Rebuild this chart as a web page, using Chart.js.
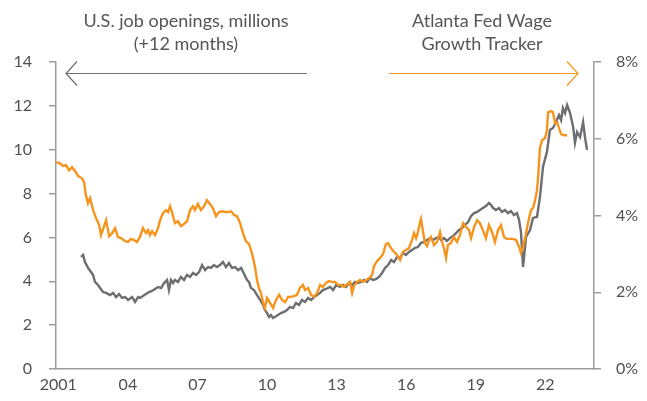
<!DOCTYPE html>
<html>
<head>
<meta charset="utf-8">
<script src="https://cdn.jsdelivr.net/npm/chart.js@4"></script>
<style>
  html, body { margin: 0; padding: 0; background: #fff; }
  #wrap { position: relative; width: 647px; height: 401px; }
  .note { position: absolute; font-family: Lato, "Open Sans", sans-serif; font-weight: 400;
          font-size: 18px; line-height: 23px; color: #555; text-align: center; }
</style>
</head>
<body>
<div id="wrap">
  <canvas id="jobsWageChart" width="647" height="401"></canvas>
  <div class="note" style="left:46px; top:9px; width:280px;">U.S. job openings, millions<br>(+12 months)</div>
  <div class="note" style="left:382px; top:9px; width:200px;">Atlanta Fed Wage<br>Growth Tracker</div>
</div>
<script>
// x ticks (years) shown on the bottom axis
const yearTicks = [2001, 2004, 2007, 2010, 2013, 2016, 2019, 2022];

// Atlanta Fed Wage Growth Tracker, % (right axis)
const wageYears = [2000.92, 2001.07, 2001.20, 2001.33, 2001.46, 2001.59, 2001.72, 2001.85, 2002.02, 2002.11,
  2002.19, 2002.28, 2002.37, 2002.50, 2002.63, 2002.76, 2002.84, 2002.97, 2003.06, 2003.19,
  2003.32, 2003.45, 2003.57, 2003.70, 2003.88, 2004.01, 2004.13, 2004.26, 2004.39, 2004.52,
  2004.65, 2004.78, 2004.87, 2004.95, 2005.04, 2005.17, 2005.30, 2005.39, 2005.51, 2005.64,
  2005.73, 2005.82, 2005.90, 2006.03, 2006.16, 2006.29, 2006.42, 2006.55, 2006.68, 2006.81,
  2006.89, 2007.02, 2007.15, 2007.28, 2007.41, 2007.54, 2007.67, 2007.80, 2007.93, 2008.06,
  2008.19, 2008.32, 2008.45, 2008.58, 2008.71, 2008.84, 2008.96, 2009.09, 2009.22, 2009.31,
  2009.40, 2009.48, 2009.57, 2009.65, 2009.74, 2009.83, 2009.91, 2010.00, 2010.13, 2010.26,
  2010.39, 2010.52, 2010.65, 2010.78, 2010.91, 2011.03, 2011.16, 2011.29, 2011.42, 2011.55,
  2011.64, 2011.77, 2011.90, 2012.03, 2012.16, 2012.29, 2012.41, 2012.54, 2012.67, 2012.80,
  2012.93, 2013.06, 2013.19, 2013.32, 2013.45, 2013.58, 2013.67, 2013.75, 2013.88, 2014.01,
  2014.14, 2014.27, 2014.40, 2014.53, 2014.61, 2014.74, 2014.87, 2015.00, 2015.13, 2015.22,
  2015.35, 2015.48, 2015.61, 2015.74, 2015.86, 2015.99, 2016.12, 2016.25, 2016.34, 2016.43,
  2016.51, 2016.60, 2016.64, 2016.73, 2016.81, 2016.90, 2016.99, 2017.07, 2017.20, 2017.33,
  2017.46, 2017.55, 2017.63, 2017.72, 2017.80, 2017.93, 2018.06, 2018.19, 2018.32, 2018.45,
  2018.58, 2018.71, 2018.80, 2018.93, 2019.06, 2019.18, 2019.31, 2019.44, 2019.57, 2019.70,
  2019.83, 2019.96, 2020.09, 2020.22, 2020.35, 2020.48, 2020.61, 2020.74, 2020.87, 2020.95,
  2021.04, 2021.13, 2021.21, 2021.30, 2021.38, 2021.47, 2021.56, 2021.64, 2021.69, 2021.77,
  2021.86, 2021.99, 2022.07, 2022.12, 2022.25, 2022.33, 2022.42, 2022.51, 2022.59, 2022.68,
  2022.81, 2022.94];
const wageValues = [5.39, 5.36, 5.29, 5.31, 5.18, 5.26, 5.16, 5.03, 4.97, 4.87,
  4.53, 4.32, 4.45, 4.14, 3.93, 3.75, 3.49, 3.72, 3.88, 3.46,
  3.54, 3.67, 3.44, 3.41, 3.33, 3.31, 3.39, 3.36, 3.31, 3.44,
  3.67, 3.54, 3.62, 3.49, 3.59, 3.49, 3.67, 3.88, 4.06, 4.14,
  4.09, 4.24, 4.09, 3.80, 3.85, 3.72, 3.78, 3.85, 4.14, 4.24,
  4.14, 4.30, 4.14, 4.24, 4.40, 4.30, 4.19, 3.98, 4.09, 4.11,
  4.09, 4.09, 4.11, 4.01, 3.98, 3.80, 3.54, 3.33, 3.26, 3.10,
  2.89, 2.66, 2.32, 2.11, 1.98, 1.72, 1.59, 1.85, 1.72, 1.59,
  1.80, 1.93, 1.80, 1.74, 1.88, 1.88, 1.90, 1.93, 2.11, 2.19,
  2.06, 2.11, 1.93, 1.88, 1.98, 2.19, 2.14, 2.24, 2.29, 2.27,
  2.27, 2.19, 2.19, 2.14, 2.21, 2.27, 1.98, 2.16, 2.27, 2.32,
  2.27, 2.32, 2.37, 2.45, 2.68, 2.81, 2.89, 2.99, 3.26, 3.28,
  3.15, 3.05, 2.97, 2.84, 3.05, 3.10, 3.15, 3.36, 3.54, 3.41,
  3.57, 3.83, 3.91, 3.57, 3.28, 3.20, 3.36, 3.44, 3.23, 3.31,
  3.57, 3.31, 3.15, 2.89, 3.23, 3.28, 3.44, 3.31, 3.49, 3.80,
  3.70, 3.62, 3.41, 3.70, 3.88, 3.80, 3.62, 3.41, 3.75, 3.57,
  3.31, 3.62, 3.75, 3.44, 3.39, 3.39, 3.39, 3.36, 3.18, 3.02,
  3.18, 3.41, 3.67, 3.93, 4.14, 4.19, 4.40, 4.66, 5.00, 5.76,
  5.96, 6.02, 6.22, 6.69, 6.72, 6.69, 6.41, 6.43, 6.28, 6.12,
  6.09, 6.09];

// U.S. job openings, millions, shifted +12 months (left axis)
const openingsYears = [2001.98, 2002.07, 2002.15, 2002.28, 2002.41, 2002.50, 2002.58, 2002.71, 2002.80, 2002.93,
  2003.06, 2003.23, 2003.36, 2003.49, 2003.62, 2003.75, 2003.88, 2004.01, 2004.18, 2004.31,
  2004.44, 2004.52, 2004.65, 2004.78, 2004.91, 2005.04, 2005.17, 2005.30, 2005.43, 2005.56,
  2005.69, 2005.77, 2005.86, 2005.95, 2006.03, 2006.16, 2006.29, 2006.42, 2006.55, 2006.68,
  2006.81, 2006.94, 2007.07, 2007.20, 2007.33, 2007.46, 2007.58, 2007.71, 2007.84, 2007.97,
  2008.10, 2008.23, 2008.36, 2008.49, 2008.62, 2008.75, 2008.88, 2009.01, 2009.14, 2009.22,
  2009.31, 2009.44, 2009.57, 2009.70, 2009.83, 2009.91, 2010.00, 2010.09, 2010.17, 2010.26,
  2010.34, 2010.47, 2010.60, 2010.73, 2010.86, 2010.99, 2011.12, 2011.25, 2011.38, 2011.51,
  2011.64, 2011.77, 2011.90, 2012.03, 2012.16, 2012.29, 2012.41, 2012.54, 2012.72, 2012.85,
  2012.98, 2013.15, 2013.28, 2013.41, 2013.54, 2013.67, 2013.79, 2013.92, 2014.05, 2014.18,
  2014.31, 2014.44, 2014.57, 2014.70, 2014.83, 2014.96, 2015.09, 2015.22, 2015.35, 2015.48,
  2015.61, 2015.74, 2015.86, 2015.99, 2016.12, 2016.25, 2016.38, 2016.51, 2016.64, 2016.77,
  2016.90, 2017.03, 2017.16, 2017.29, 2017.42, 2017.50, 2017.63, 2017.76, 2017.89, 2018.02,
  2018.15, 2018.28, 2018.41, 2018.54, 2018.67, 2018.80, 2018.93, 2019.06, 2019.18, 2019.31,
  2019.44, 2019.57, 2019.66, 2019.75, 2019.87, 2020.00, 2020.13, 2020.26, 2020.39, 2020.52,
  2020.65, 2020.78, 2020.87, 2020.95, 2021.04, 2021.17, 2021.34, 2021.47, 2021.64, 2021.77,
  2021.90, 2022.07, 2022.20, 2022.33, 2022.46, 2022.59, 2022.68, 2022.76, 2022.85, 2022.94,
  2023.07, 2023.20, 2023.28, 2023.37, 2023.50, 2023.63, 2023.71, 2023.80];
const openingsValues = [5.11, 5.20, 4.88, 4.61, 4.42, 4.29, 3.97, 3.83, 3.69, 3.51,
  3.47, 3.37, 3.47, 3.28, 3.42, 3.24, 3.28, 3.15, 3.28, 3.06,
  3.28, 3.24, 3.33, 3.42, 3.51, 3.56, 3.65, 3.74, 3.69, 3.92,
  4.06, 3.60, 4.06, 3.92, 4.06, 3.97, 4.20, 4.06, 4.29, 4.20,
  4.38, 4.29, 4.42, 4.74, 4.51, 4.65, 4.61, 4.74, 4.65, 4.74,
  4.88, 4.65, 4.83, 4.61, 4.65, 4.51, 4.61, 4.33, 4.06, 3.97,
  3.69, 3.60, 3.37, 3.15, 2.92, 2.69, 2.55, 2.37, 2.46, 2.33,
  2.37, 2.46, 2.55, 2.60, 2.69, 2.83, 2.78, 3.01, 2.92, 3.15,
  3.06, 3.24, 3.15, 3.28, 3.37, 3.47, 3.60, 3.65, 3.74, 3.60,
  3.83, 3.74, 3.83, 3.74, 3.92, 3.83, 3.97, 3.92, 3.97, 4.06,
  3.97, 4.15, 4.06, 4.10, 4.20, 4.38, 4.61, 4.74, 4.97, 4.88,
  5.11, 5.06, 5.29, 5.20, 5.34, 5.43, 5.52, 5.56, 5.75, 5.79,
  5.88, 5.97, 5.88, 5.97, 6.02, 5.88, 5.97, 5.84, 5.97, 6.06,
  6.20, 6.34, 6.43, 6.57, 6.70, 6.98, 7.11, 7.16, 7.25, 7.34,
  7.43, 7.57, 7.48, 7.34, 7.25, 7.34, 7.16, 7.25, 7.11, 7.20,
  7.02, 7.11, 6.79, 6.25, 4.65, 6.02, 6.34, 6.89, 6.93, 7.84,
  9.21, 9.90, 10.90, 10.99, 11.26, 11.58, 11.35, 11.90, 11.67, 12.04,
  11.67, 11.04, 10.31, 10.81, 10.58, 11.26, 10.58, 9.99];

const axisGrey = '#9b9b9b';
const textGrey = '#505050';
const lineGrey = '#6d6e71';
const orange = '#f7941d';
const tickFont = { family: 'Lato', size: 16, weight: '400' };

function toPoints(xs, ys) {
    return xs.map((x, i) => ({ x: x, y: ys[i] }));
}

// the two arrows under the notes
const arrowsPlugin = {
    id: 'arrows',
    afterDraw(chart) {
        const ctx = chart.ctx;
        ctx.save();
        ctx.lineWidth = 1.2;
        ctx.strokeStyle = lineGrey;
        ctx.beginPath();
        ctx.moveTo(307, 73.5); ctx.lineTo(66, 73.5);
        ctx.moveTo(77, 61.5); ctx.lineTo(66, 73.5); ctx.lineTo(77, 85.5);
        ctx.stroke();
        ctx.strokeStyle = orange;
        ctx.beginPath();
        ctx.moveTo(389, 73.5); ctx.lineTo(578, 73.5);
        ctx.moveTo(567, 61.5); ctx.lineTo(578, 73.5); ctx.lineTo(567, 85.5);
        ctx.stroke();
        ctx.restore();
    }
};

const ctx = document.getElementById('jobsWageChart').getContext('2d');
new Chart(ctx, {
    type: 'line',
    data: {
        datasets: [
            {
                label: 'Atlanta Fed Wage Growth Tracker',
                data: toPoints(wageYears, wageValues),
                yAxisID: 'y1',
                borderColor: orange,
                borderWidth: 2.4,
                pointRadius: 0,
                tension: 0
            },
            {
                label: 'U.S. job openings, millions (+12 months)',
                data: toPoints(openingsYears, openingsValues),
                yAxisID: 'y',
                borderColor: lineGrey,
                borderWidth: 2.4,
                pointRadius: 0,
                tension: 0
            }
        ]
    },
    options: {
        responsive: false,
        animation: false,
        layout: { padding: { top: 62, left: 0, right: 0, bottom: 0 } },
        plugins: {
            legend: { display: false },
            tooltip: { enabled: false }
        },
        scales: {
            x: {
                type: 'linear',
                min: 2000.9,
                max: 2024.1,
                afterBuildTicks: (scale) => { scale.ticks = yearTicks.map(v => ({ value: v })); },
                afterFit: (scale) => { scale.height = 32; },
                grid: { drawOnChartArea: false, drawTicks: false, color: axisGrey },
                border: { color: axisGrey, width: 1.5 },
                ticks: {
                    autoSkip: false,
                    maxRotation: 0,
                    padding: 6,
                    color: textGrey,
                    font: tickFont,
                    callback: (v) => v === 2001 ? '2001' : String(v).slice(2)
                }
            },
            y: {
                position: 'left',
                min: 0,
                max: 14,
                afterFit: (scale) => { scale.width = 56; },
                grid: { drawOnChartArea: false, tickLength: 7, color: axisGrey, lineWidth: 1.5 },
                border: { color: axisGrey, width: 1.5 },
                ticks: {
                    stepSize: 2,
                    padding: 17,
                    color: textGrey,
                    font: tickFont
                }
            },
            y1: {
                position: 'right',
                min: 0,
                max: 8,
                afterFit: (scale) => { scale.width = 53; },
                grid: { drawOnChartArea: false, tickLength: 7, color: axisGrey, lineWidth: 1.5 },
                border: { color: axisGrey, width: 1.5 },
                ticks: {
                    stepSize: 2,
                    padding: 15,
                    color: textGrey,
                    font: tickFont,
                    callback: (v) => v + '%'
                }
            }
        }
    },
    plugins: [arrowsPlugin]
});
</script>
</body>
</html>
